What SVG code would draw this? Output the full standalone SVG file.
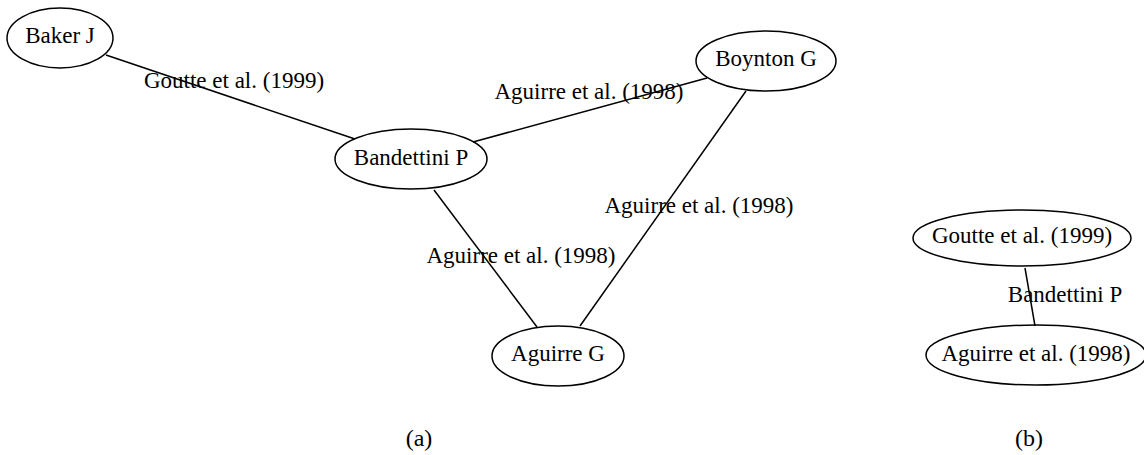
<svg xmlns="http://www.w3.org/2000/svg" width="1144" height="455" viewBox="0 0 1144 455">
<style>
.node ellipse{fill:none;stroke:#000;stroke-width:1.5}
text{font-family:"Liberation Serif","Times New Roman",serif;font-size:23px;fill:#000;text-anchor:middle}
.edges line{stroke:#000;stroke-width:1.5}
.cap{font-size:24px}
</style>
<rect width="1144" height="455" fill="#fff"/>
<g id="connectors" class="edges">
<line x1="106" y1="55" x2="355" y2="139"/>
<line x1="473" y1="142" x2="707" y2="78"/>
<line x1="434" y1="190" x2="537" y2="327"/>
<line x1="746" y1="91" x2="580" y2="326"/>
<line x1="1025" y1="268" x2="1035" y2="326"/>
</g>
<g id="edge-labels">
<text x="234" y="88">Goutte et al. (1999)</text>
<text x="589" y="99">Aguirre et al. (1998)</text>
<text x="699" y="213">Aguirre et al. (1998)</text>
<text x="521" y="263">Aguirre et al. (1998)</text>
<text x="1065" y="302">Bandettini P</text>
</g>
<g id="baker" class="node"><ellipse cx="60" cy="38" rx="53" ry="30"/><text x="60" y="43">Baker J</text></g>
<g id="bandettini" class="node"><ellipse cx="411" cy="159" rx="76" ry="30"/><text x="411" y="165">Bandettini P</text></g>
<g id="boynton" class="node"><ellipse cx="766" cy="61" rx="70" ry="30"/><text x="766" y="66">Boynton G</text></g>
<g id="aguirreG" class="node"><ellipse cx="558" cy="356" rx="66" ry="30"/><text x="558" y="361">Aguirre G</text></g>
<g id="goutte" class="node"><ellipse cx="1022" cy="238" rx="109" ry="28"/><text x="1022" y="243">Goutte et al. (1999)</text></g>
<g id="aguirre1998" class="node"><ellipse cx="1036" cy="355" rx="110" ry="30"/><text x="1036" y="361">Aguirre et al. (1998)</text></g>
<text class="cap" x="419" y="446">(a)</text>
<text class="cap" x="1029" y="446">(b)</text>
</svg>
